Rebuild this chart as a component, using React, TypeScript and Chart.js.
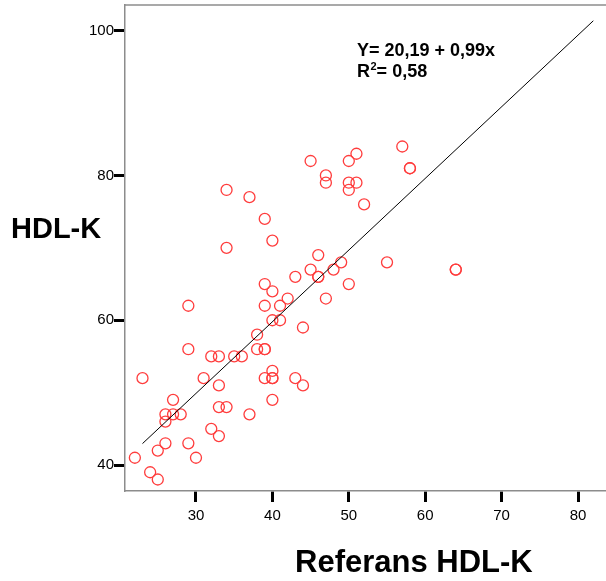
import { useEffect, useRef } from 'react';
import { Chart, registerables } from 'chart.js';

Chart.register(...registerables);

const FONT = '"Liberation Sans", Arial, Helvetica, sans-serif';

// Referans HDL-K (x) and measured HDL-K (y), paired by index
const referansX = [
  34, 40, 46, 49, 45, 48, 43, 46, 46, 50,
  39, 40, 42, 47, 29, 39, 41, 40, 41, 44,
  38, 29, 38, 39, 39, 32, 33, 35, 36, 40,
  23, 31, 39, 40, 40, 43, 33, 44, 27, 40,
  33, 34, 26, 27, 28, 37, 26, 32, 33, 26,
  29, 25, 22, 30, 24, 25, 45, 50, 51, 47,
  47, 50, 51, 50, 52, 34, 37, 39, 57, 58,
  58, 55, 64, 64,
];
const hdlK = [
  70, 71, 69, 68, 67, 67, 66, 66, 66, 65,
  65, 64, 63, 63, 62, 62, 62, 60, 60, 59,
  58, 56, 56, 56, 56, 55, 55, 55, 55, 53,
  52, 52, 52, 52, 52, 52, 51, 51, 49, 49,
  48, 48, 47, 47, 47, 47, 46, 45, 44, 43,
  43, 42, 41, 41, 39, 38, 82, 82, 83, 80,
  79, 79, 79, 78, 76, 78, 77, 74, 84, 81,
  81, 68, 67, 67,
];

// Regression line endpoints (Y = 20,19 + 0,99x)
const fitX = [23, 82];
const fitY = [42.96, 101.37];

const xTicks = [30, 40, 50, 60, 70, 80];
const yTicks = [40, 60, 80, 100];

const xTitle = 'Referans HDL-K';
const yTitle = 'HDL-K';
const eqLine = 'Y= 20,19 + 0,99x';
const r2Label = ['R', '2', '= 0,58'];

const decorPlugin = {
  id: 'decor',
  afterDraw(chart: any) {
    const { ctx, chartArea } = chart;
    ctx.save();
    // top frame line
    ctx.strokeStyle = '#8c8c8c';
    ctx.lineWidth = 1.5;
    ctx.beginPath();
    ctx.moveTo(chartArea.left, chartArea.top);
    ctx.lineTo(chartArea.right, chartArea.top);
    ctx.stroke();

    ctx.fillStyle = '#000';
    ctx.textBaseline = 'alphabetic';
    ctx.textAlign = 'left';
    // axis titles
    ctx.font = `bold 29px ${FONT}`;
    ctx.fillText(yTitle, 11, 238);
    ctx.font = `bold 31px ${FONT}`;
    ctx.fillText(xTitle, 295, 572);

    // equation
    ctx.font = `bold 18px ${FONT}`;
    ctx.fillText(eqLine, 357, 56);
    ctx.fillText(r2Label[0], 357, 77);
    const rw = ctx.measureText(r2Label[0]).width;
    ctx.font = `bold 11px ${FONT}`;
    ctx.fillText(r2Label[1], 357 + rw + 0.5, 70);
    const sw = ctx.measureText(r2Label[1]).width;
    ctx.font = `bold 18px ${FONT}`;
    ctx.fillText(r2Label[2], 357 + rw + sw + 0.5, 77);
    ctx.restore();
  },
};

export default function App() {
  const ref = useRef<HTMLCanvasElement | null>(null);

  useEffect(() => {
    if (!ref.current) return;
    const points = referansX.map((x, i) => ({ x, y: hdlK[i] }));
    const fit = fitX.map((x, i) => ({ x, y: fitY[i] }));
    const tickFont = { family: FONT, size: 15 };

    const chart = new Chart(ref.current, {
      type: 'scatter',
      data: {
        datasets: [
          {
            type: 'line',
            data: fit,
            borderColor: '#000',
            borderWidth: 1,
            pointRadius: 0,
            fill: false,
            tension: 0,
            order: 1,
          } as any,
          {
            type: 'scatter',
            data: points,
            pointStyle: 'circle',
            pointRadius: 5.5,
            pointBorderWidth: 1.3,
            borderColor: '#ff3d3d',
            backgroundColor: 'rgba(0,0,0,0)',
            pointHoverRadius: 5.5,
            order: 2,
          } as any,
        ],
      },
      options: {
        animation: false,
        responsive: false,
        devicePixelRatio: 1,
        layout: { autoPadding: false, padding: { top: 5, left: 0, right: 0, bottom: 0 } },
        plugins: { legend: { display: false }, tooltip: { enabled: false } },
        scales: {
          x: {
            type: 'linear',
            min: 20.71,
            max: 83.66,
            afterBuildTicks: (s: any) => {
              s.ticks = xTicks.map((v) => ({ value: v }));
            },
            afterFit: (s: any) => {
              s.height = 90;
              s.paddingLeft = 0;
              s.paddingRight = 0;
            },
            grid: {
              display: true,
              drawOnChartArea: false,
              drawTicks: true,
              tickLength: 11,
              tickWidth: 3,
              tickColor: '#000',
            },
            border: { display: true, color: '#8c8c8c', width: 1.5 },
            ticks: {
              font: tickFont,
              color: '#000',
              padding: 5,
              maxRotation: 0,
              autoSkip: false,
            },
          },
          y: {
            type: 'linear',
            min: 36.41,
            max: 103.55,
            afterBuildTicks: (s: any) => {
              s.ticks = yTicks.map((v) => ({ value: v }));
            },
            afterFit: (s: any) => {
              s.width = 125;
              s.paddingTop = 0;
              s.paddingBottom = 0;
            },
            grid: {
              display: true,
              drawOnChartArea: false,
              drawTicks: true,
              tickLength: 11,
              tickWidth: 3,
              tickColor: '#000',
            },
            border: { display: true, color: '#8c8c8c', width: 1.5 },
            ticks: {
              font: tickFont,
              color: '#000',
              padding: 0,
              autoSkip: false,
            },
          },
        },
      } as any,
      plugins: [decorPlugin],
    });
    return () => chart.destroy();
  }, []);

  return (
    <div style={{ position: 'absolute', left: 0, top: 0, width: 606, height: 581, background: '#fff' }}>
      <canvas ref={ref} width={606} height={581} />
    </div>
  );
}
